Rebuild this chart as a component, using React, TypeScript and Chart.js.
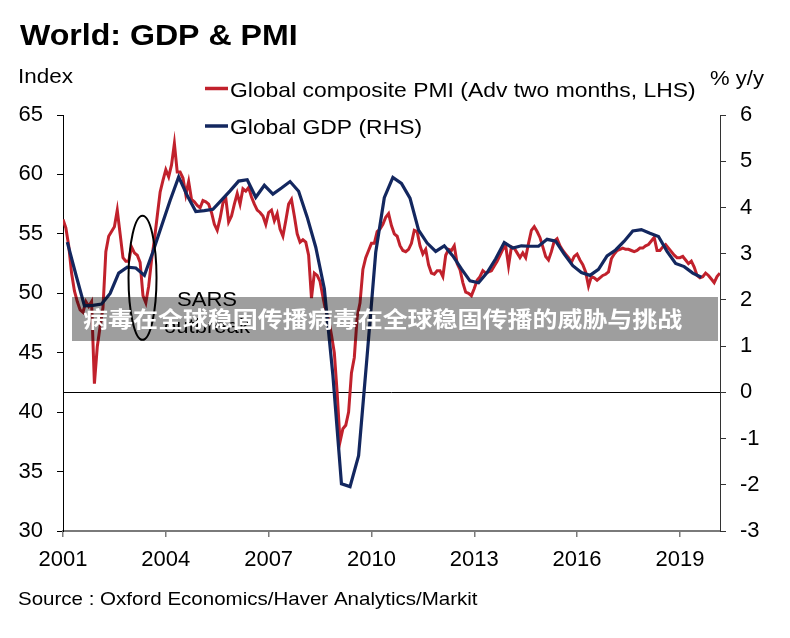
import React, { useEffect, useRef } from "react";
import { Chart, registerables } from "chart.js";

Chart.register(...registerables);

// ---------- DATA ----------
// Global composite PMI (advanced two months), monthly from Jan 2001
const pmiStartYear = 2001;
const pmiValues = [
  56.2, 55.5, 54.0, 51.7, 50.2, 49.3, 48.6, 48.4, 49.3, 48.9, 49.3,
  42.4, 45.5, 47.2, 48.8, 53.5, 54.8, 55.2, 55.6, 57.0, 55.0,
  53.0, 52.7, 52.7, 53.9, 53.4, 53.2, 52.6, 49.8, 49.2, 50.6,
  52.8, 54.5, 56.5, 58.5, 59.5, 60.4, 59.8, 60.8, 62.6, 60.2,
  60.2, 59.7, 58.3, 59.4, 57.9, 57.7, 57.4, 57.2, 57.8, 57.7,
  57.5, 56.8, 55.8, 55.3, 56.3, 57.6, 58.0, 56.0, 56.5, 57.5,
  58.4, 57.5, 58.8, 58.6, 58.9, 58.1, 57.5, 57.0, 56.8, 56.5,
  55.8, 56.8, 57.0, 56.1, 56.7, 55.4, 54.8, 56.1, 57.5, 57.9,
  56.5, 55.0, 54.3, 54.5, 54.3, 53.2, 49.6, 51.7, 51.5, 51.0,
  49.7, 48.5, 47.8, 46.5, 45.0, 41.6, 37.5, 38.6, 38.9, 40.0,
  43.3, 44.6, 48.0, 49.2, 52.0, 53.0, 53.6, 54.2, 54.2, 55.2,
  55.4, 55.8, 56.4, 56.7, 55.7, 55.0, 54.8, 54.0, 53.6, 53.5,
  53.7, 54.2, 55.3, 55.2, 54.0, 53.3, 53.7, 52.4, 51.7, 51.6,
  51.9, 51.9, 51.4, 53.2, 53.7, 53.6, 54.0, 52.5, 52.0, 50.9,
  50.1, 50.0, 49.8, 50.4, 51.1, 51.4, 51.9, 51.7, 51.8, 51.9,
  52.3, 52.7, 53.2, 53.7, 54.0, 52.3, 53.9, 53.8, 53.4, 53.0,
  53.4, 53.0, 54.2, 55.3, 55.6, 55.2, 54.7, 53.9, 53.1, 52.8,
  53.5, 54.4, 54.6, 54.0, 53.6, 53.3, 53.0, 52.6, 53.1, 53.3,
  52.8, 52.4, 51.8, 50.6, 51.4, 51.3, 51.1, 51.3, 51.5, 51.6,
  51.8, 52.9, 53.3, 53.6, 53.7, 53.8, 53.7, 53.7, 53.6, 53.5,
  53.6, 53.8, 53.8, 54.0, 54.1, 54.4, 54.7, 53.6, 53.6, 53.9,
  54.1, 53.8, 53.5, 53.2, 53.0, 53.0, 53.1, 52.8, 52.5, 52.7,
  52.2, 51.5, 51.3, 51.4, 51.7, 51.5, 51.2, 50.9, 51.4, 51.7,
];

// Global GDP % y/y, quarterly from 2001 Q1
const gdpStartYear = 2001;
const gdpValues = [
  3.25, 2.55, 1.87, 1.88,
  1.91, 2.14, 2.58, 2.71,
  2.69, 2.53, 3.04, 3.6,
  4.15, 4.66, 4.26, 3.91,
  3.93, 3.96, 4.16, 4.36,
  4.57, 4.6, 4.22, 4.48,
  4.29, 4.42, 4.56, 4.35,
  3.79, 3.14, 2.24, 0.37,
  -1.98, -2.04, -1.37, 0.8,
  3.03, 4.21, 4.65, 4.52,
  4.2, 3.51, 3.23, 3.05,
  3.17, 2.95, 2.67, 2.41,
  2.37, 2.59, 2.89, 3.24,
  3.12, 3.17, 3.16, 3.16,
  3.31, 3.27, 2.99, 2.74,
  2.59, 2.53, 2.66, 2.95,
  3.08, 3.27, 3.49, 3.52,
  3.44, 3.37, 3.05, 2.79,
  2.72, 2.58, 2.49,
];

const xTickYears = [2001, 2004, 2007, 2010, 2013, 2016, 2019];
const xMin = 2001;
const xMax = 2020.17;
const leftTicks = [30, 35, 40, 45, 50, 55, 60, 65];
const rightTicks = [-3, -2, -1, 0, 1, 2, 3, 4, 5, 6];

const titleText = "World: GDP & PMI";
const leftAxisTitle = "Index";
const rightAxisTitle = "% y/y";
const pmiLabel = "Global composite PMI (Adv two months, LHS)";
const gdpLabel = "Global GDP (RHS)";
const sourceText = "Source : Oxford Economics/Haver Analytics/Markit";
const sarsLines = ["SARS", "outbreak"];
const sarsCenter = { year: 2003.32, index: 51.3 };
const bannerText = "病毒在全球稳固传播病毒在全球稳固传播的威胁与挑战";

const RED = "#C1212C";
const BLUE = "#13275F";
const FONT = "'Liberation Sans', Arial, Helvetica, sans-serif";
const CJK = "'Noto Sans CJK SC', 'Noto Sans CJK TC', sans-serif";

function drawText(
  ctx: CanvasRenderingContext2D,
  text: string,
  x: number,
  y: number,
  font: string,
  sx: number,
  align: CanvasTextAlign = "left",
  color = "#000",
  baseline: CanvasTextBaseline = "alphabetic"
) {
  ctx.save();
  ctx.font = font;
  ctx.fillStyle = color;
  ctx.textAlign = align;
  ctx.textBaseline = baseline;
  ctx.translate(x, y);
  ctx.scale(sx, 1);
  ctx.fillText(text, 0, 0);
  ctx.restore();
}

const decorPlugin = {
  id: "decor",
  beforeDatasetsDraw(chart: any) {
    const { ctx, chartArea, scales } = chart;
    const y0 = Math.round(scales.y2.getPixelForValue(0)) + 0.5;
    ctx.save();
    ctx.strokeStyle = "#000";
    ctx.lineWidth = 1;
    ctx.beginPath();
    ctx.moveTo(chartArea.left, y0);
    ctx.lineTo(chartArea.right, y0);
    ctx.stroke();
    ctx.restore();
  },
  afterDatasetsDraw(chart: any) {
    const { ctx, scales } = chart;
    const cx = scales.x.getPixelForValue(sarsCenter.year);
    const cy = scales.y.getPixelForValue(sarsCenter.index);
    ctx.save();
    ctx.strokeStyle = "#000";
    ctx.lineWidth = 2;
    ctx.beginPath();
    ctx.ellipse(cx, cy, 14, 62, 0, 0, Math.PI * 2);
    ctx.stroke();
    ctx.restore();
    drawText(ctx, sarsLines[0], 207, 306, `21px ${FONT}`, 1.05, "center");
    drawText(ctx, sarsLines[1], 207, 333, `21px ${FONT}`, 1.05, "center");
  },
  afterDraw(chart: any) {
    const { ctx } = chart;
    // title & axis titles
    drawText(ctx, titleText, 20, 45, `bold 30px ${FONT}`, 1.07);
    drawText(ctx, leftAxisTitle, 18, 83, `21px ${FONT}`, 1.07);
    drawText(ctx, rightAxisTitle, 710, 85, `21px ${FONT}`, 1.05);
    // legend
    const rows = [
      { label: pmiLabel, color: RED, y: 88.5 },
      { label: gdpLabel, color: BLUE, y: 126 },
    ];
    rows.forEach((r) => {
      ctx.save();
      ctx.strokeStyle = r.color;
      ctx.lineWidth = 3.5;
      ctx.beginPath();
      ctx.moveTo(205, r.y);
      ctx.lineTo(228, r.y);
      ctx.stroke();
      ctx.restore();
      drawText(ctx, r.label, 230, r.y + 8, `21px ${FONT}`, 1.09);
    });
    // source
    drawText(ctx, sourceText, 18, 605, `19px ${FONT}`, 1.08);
    // banner
    ctx.save();
    ctx.fillStyle = "rgba(0,0,0,0.38)";
    ctx.fillRect(72, 297, 646, 44);
    ctx.restore();
    drawText(ctx, bannerText, 83, 319, `bold 22px ${CJK}`, 1.135, "left", "#fff", "middle");
  },
};

export default function App() {
  const canvasRef = useRef<HTMLCanvasElement | null>(null);

  useEffect(() => {
    const canvas = canvasRef.current;
    if (!canvas) return;
    const pmiData = pmiValues.map((v, i) => ({ x: pmiStartYear + i / 12, y: v }));
    const gdpData = gdpValues.map((v, i) => ({ x: gdpStartYear + 0.125 + i * 0.25, y: v }));

    const tickFont = { family: FONT, size: 22 };

    const chart = new Chart(canvas, {
      type: "line",
      data: {
        datasets: [
          {
            label: pmiLabel,
            data: pmiData,
            yAxisID: "y",
            borderColor: RED,
            backgroundColor: RED,
            borderWidth: 3,
            pointRadius: 0,
            tension: 0,
            order: 2,
          },
          {
            label: gdpLabel,
            data: gdpData,
            yAxisID: "y2",
            borderColor: BLUE,
            backgroundColor: BLUE,
            borderWidth: 3.2,
            pointRadius: 0,
            tension: 0,
            order: 1,
          },
        ],
      },
      options: {
        responsive: false,
        maintainAspectRatio: false,
        animation: false,
        devicePixelRatio: 1,
        layout: { padding: { top: 115, left: 0, right: 0, bottom: 0 } },
        plugins: { legend: { display: false }, tooltip: { enabled: false } },
        scales: {
          x: {
            type: "linear",
            position: "bottom",
            min: xMin,
            max: xMax,
            afterBuildTicks: (s: any) => {
              s.ticks = xTickYears.map((v) => ({ value: v }));
            },
            afterFit: (s: any) => {
              s.height = 107;
            },
            grid: {
              display: true,
              drawOnChartArea: false,
              drawTicks: true,
              tickLength: 6,
              color: "#7a7a7a",
              lineWidth: 1.5,
            },
            border: { display: true, color: "#7a7a7a", width: 2 },
            ticks: {
              font: tickFont,
              color: "#000",
              padding: 10,
              maxRotation: 0,
              autoSkip: false,
              callback: (v: any) => String(v),
            },
          },
          y: {
            type: "linear",
            position: "left",
            min: 30,
            max: 65,
            afterBuildTicks: (s: any) => {
              s.ticks = leftTicks.map((v) => ({ value: v }));
            },
            afterFit: (s: any) => {
              s.width = 63;
            },
            grid: {
              display: true,
              drawOnChartArea: false,
              drawTicks: true,
              tickLength: 6,
              color: "#000",
              lineWidth: 1,
            },
            border: { display: true, color: "#000", width: 1 },
            ticks: { font: tickFont, color: "#000", padding: 14, callback: (v: any) => String(v) },
          },
          y2: {
            type: "linear",
            position: "right",
            min: -3,
            max: 6,
            afterBuildTicks: (s: any) => {
              s.ticks = rightTicks.map((v) => ({ value: v }));
            },
            afterFit: (s: any) => {
              s.width = 70;
            },
            grid: {
              display: true,
              drawOnChartArea: false,
              drawTicks: true,
              tickLength: 6,
              color: "#333",
              lineWidth: 1,
            },
            border: { display: true, color: "#333", width: 1 },
            ticks: { font: tickFont, color: "#000", padding: 14, callback: (v: any) => String(v) },
          },
        },
      } as any,
      plugins: [decorPlugin],
    });
    return () => chart.destroy();
  }, []);

  return (
    <div style={{ position: "absolute", left: 0, top: 0, width: 790, height: 638, background: "#fff" }}>
      <canvas ref={canvasRef} width={790} height={638} style={{ display: "block", width: 790, height: 638 }} />
    </div>
  );
}
